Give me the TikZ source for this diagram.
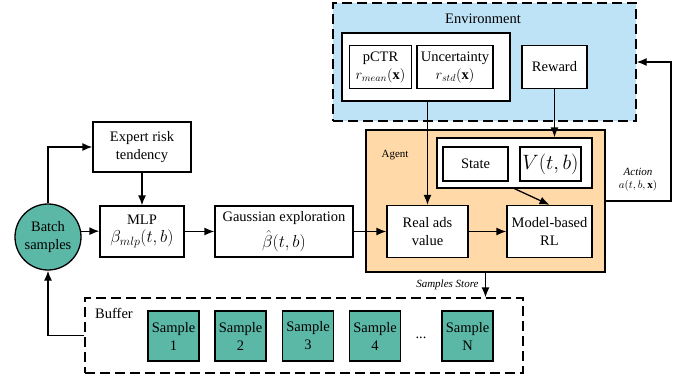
\documentclass[tikz,border=0pt]{standalone}
\usepackage{amsmath}
\usepackage{fontspec}
\setmainfont{Liberation Serif}
\usepackage{tikz}
\usepackage{xcolor}
\usetikzlibrary{arrows.meta}

\definecolor{envblue}{HTML}{BEE3F6}
\definecolor{agentorange}{HTML}{FFDAA8}
\definecolor{sampleteal}{HTML}{5CB8A6}

\tikzset{
  blk/.style={draw, line width=1.3pt, fill=white, align=center, inner sep=1pt,
    font=\fontsize{14.5}{18}\selectfont},
  smp/.style={blk, fill=sampleteal, minimum width=51, minimum height=50},
  dashbox/.style={draw, line width=1.3pt, dash pattern=on 10pt off 5pt},
  plain/.style={font=\fontsize{14.5}{18}\selectfont},
  lbl/.style={font=\fontsize{11}{13}\selectfont\itshape, align=center},
}

\begin{document}
\begin{tikzpicture}[x=1pt,y=-1pt,line width=1.3pt,>={Latex[length=10pt,width=8pt]}]
        \useasboundingbox (0,0) rectangle (689,380);
        % environment
        \node[dashbox, fill=envblue, minimum width=303, minimum height=118] (env) at (484.5,62) {};
        \node[plain] (envtitle) at (483,19) {Environment};
        \node[blk, minimum width=168, minimum height=68] (ctr) at (426,67) {};
        \node[blk, minimum width=62, minimum height=43] (pctr) at (380.5,67) {pCTR\\$r_{mean}(\mathbf{x})$};
        \node[blk, minimum width=76, minimum height=43] (uncert) at (455,67) {Uncertainty\\$r_{std}(\mathbf{x})$};
        \node[blk, minimum width=65, minimum height=43] (reward) at (554.5,67) {Reward};
        % agent
        \node[draw, fill=agentorange, minimum width=239, minimum height=142] (agent) at (485.5,201) {};
        \node[font=\fontsize{11}{13}\selectfont] (agenttitle) at (395,155) {Agent};
        \node[blk, minimum width=155, minimum height=50] (statebox) at (514.5,163) {};
        \node[blk, minimum width=65, minimum height=34] (state) at (475.5,164) {State};
        \node[blk, minimum width=61, minimum height=34, font=\fontsize{20}{22}\selectfont] (value) at (550.5,164) {$V(t,b)$};
        \node[blk, minimum width=81, minimum height=52] (realads) at (427.5,231.5) {Real ads\\value};
        \node[blk, minimum width=85, minimum height=52] (model) at (549.5,231.5) {Model-based\\RL};
        % left part
        \node[blk, circle, fill=sampleteal, minimum size=66] (batch) at (48,237) {Batch\\samples};
        \node[blk, minimum width=98, minimum height=50] (expert) at (142,147) {Expert risk\\tendency};
        \node[blk, minimum width=84, minimum height=51] (mlp) at (142,231.5) {MLP\\{\fontsize{17}{18}\selectfont$\beta_{mlp}(t,b)$}};
        \node[blk, minimum width=138, minimum height=51, inner ysep=0pt] (gauss) at (284,231.5) {Gaussian exploration\\[5pt]{\fontsize{18}{18}\selectfont$\hat{\beta}(t,b)$}};
        % buffer
        \node[dashbox, minimum width=438, minimum height=75] (buffer) at (304,335.5) {};
        \node[plain] (buftitle) at (114,313) {Buffer};
        \foreach \i/\x in {1/173.5,2/240.5,3/308,4/375}
            \node[smp] (s\i) at (\x,336) {Sample\\\i};
        \node[plain] (dots) at (421,338) {...};
        \node[smp] (sN) at (467.5,336) {Sample\\N};
        % connectors
        \draw[->] (batch.north) |- (expert.west);
        \draw[->] (expert) -- (mlp);
        \draw[->] (batch.10) -- (batch.10 -| mlp.west);
        \draw[->] (mlp) -- (gauss);
        \draw[->] (gauss) -- (realads);
        \draw[->] (realads) -- (model);
        \draw[->] (ctr.south -| realads.north) -- (realads.north);
        \draw[->] (reward.south) -- (reward.south |- statebox.north);
        \draw[->] (statebox.south) -- (model.north);
        \draw[->] (agent.south) -- (agent.south |- buffer.north)
            node[lbl, midway, left=3pt] (store) {Samples Store};
        \draw[->] (buffer.west) -| (batch.south);
        \coordinate (act) at (671,201);
        \draw[->] (act -| agent.east) -- (act) |- (env.east);
        \node[lbl] (actlbl) at (638,180) {Action\\$a(t,b,\mathbf{x})$};
\end{tikzpicture}
\end{document}
